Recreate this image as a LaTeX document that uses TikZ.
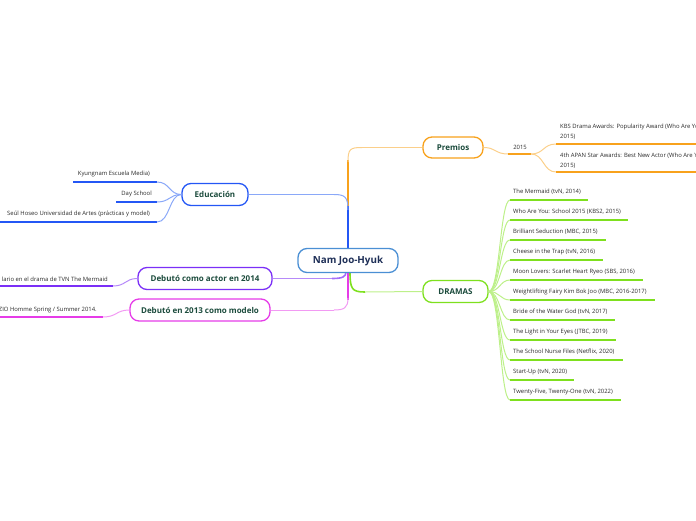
\documentclass[tikz,border=0pt]{standalone}
\usepackage{fontspec}
\setmainfont{Open Sans}
\definecolor{cblue}{HTML}{2457F5}
\definecolor{lblue}{HTML}{8AA8F8}
\definecolor{corange}{HTML}{F8A21C}
\definecolor{lorange}{HTML}{FBCF8A}
\definecolor{cpurple}{HTML}{7B2FF7}
\definecolor{lpurple}{HTML}{B68AF9}
\definecolor{cmag}{HTML}{E63CE8}
\definecolor{lmag}{HTML}{F29AF3}
\definecolor{cgreen}{HTML}{7EE01E}
\definecolor{lgreen}{HTML}{BDF08A}
\definecolor{nodetext}{HTML}{1B4B3C}
\definecolor{centert}{HTML}{1E2F57}
\definecolor{centerb}{HTML}{4A8FD4}
\definecolor{leaftext}{HTML}{2A2A2A}
\begin{document}
\begin{tikzpicture}[x=1pt,y=-1pt,
  topic/.style={draw, rounded corners=9pt, line width=1.3pt, fill=white,
    font=\bfseries\fontsize{8}{9}\selectfont, text=nodetext, inner sep=0pt, minimum height=22pt},
  leaf/.style={font=\fontsize{5.9}{10}\selectfont, inner sep=0pt, text=leaftext},
  uline/.style={line width=2pt},
  trunk/.style={line width=2.4pt},
  conn/.style={line width=1pt}]
\useasboundingbox (0,0) rectangle (696,520);
\clip (0,0) rectangle (696,520);

% trunk lines
\draw[trunk,corange] (348,206) -- (348,160);
\draw[conn,lorange] (348,162) .. controls (348,149) and (350,147.5) .. (362,147.5) coordinate (pa);
\draw[trunk,cblue] (348,249) -- (348,206);
\draw[conn,lblue] (348,210) .. controls (348,197) and (345,194.5) .. (334,194.5) coordinate (ea);
\draw[trunk,cmag] (348,272) -- (348,300);
\draw[conn,lmag] (348,298) .. controls (348,308) and (344,310) .. (334,310) coordinate (ma);
\draw[line width=1.6pt,cpurple!70] (346,272) .. controls (346,277) and (342,278.5) .. (332,278.5) coordinate (aa);
\draw[line width=1.6pt,cgreen] (350,272) .. controls (350,289) and (352,292) .. (365,292) coordinate (ga);

% main nodes
\node[topic, draw=centerb, text=centert, minimum width=100pt, minimum height=24pt,
  font=\bfseries\fontsize{9.8}{11}\selectfont] (c) at (348,260.5) {Nam Joo-Hyuk};
\node[topic, draw=corange, minimum width=60pt, minimum height=21pt] (prem) at (453,147.5) {Premios};
\node[topic, draw=cblue, minimum width=66pt] (edu) at (215,194.5) {Educación};
\node[topic, draw=cpurple, minimum width=134pt] (act) at (205,278.5) {Debutó como actor en 2014};
\node[topic, draw=cmag, minimum width=140pt] (mod) at (200,310) {Debutó en 2013 como modelo};
\node[topic, draw=cgreen, minimum width=65pt] (dr) at (455.5,291.5) {DRAMAS};

\draw[conn,lorange] (pa) -- (prem.west);
\draw[conn,lblue] (ea) -- (edu.east);
\draw[conn,lmag] (ma) -- (mod.east);
\draw[conn,lpurple] (aa) -- (act.east);
\draw[conn,lgreen] (ga) -- (dr.west);

% Premios subtree
\coordinate (y15a) at (508,154);
\coordinate (y15b) at (531,154);
\node[leaf] (y15) at (520,147) {2015};
\draw[conn,lorange] (prem.east) .. controls (496,147.5) and (495,154) .. (y15a);
\draw[uline,corange] (y15a) -- (y15b);
\coordinate (k1a) at (556,144); \coordinate (k1b) at (700,144);
\coordinate (k2a) at (556,172); \coordinate (k2b) at (700,172);
\draw[conn,lorange] (y15b) .. controls (544,154) and (543,144) .. (k1a);
\draw[conn,lorange] (y15b) .. controls (544,154) and (543,172) .. (k2a);
\draw[uline,corange] (k1a) -- (k1b);
\draw[uline,corange] (k2a) -- (k2b);
\node[leaf, anchor=north west, align=left] (k1) at (560,123.5) {KBS Drama Awards: Popularity Award (Who Are You: School\\2015)};
\node[leaf, anchor=north west, align=left] (k2) at (560,153) {4th APAN Star Awards: Best New Actor (Who Are You: School\\2015)};

% Educacion subtree
\node[leaf, anchor=east] (e1) at (150,174) {Kyungnam Escuela Media)};
\node[leaf, anchor=east] (e2) at (152,194) {Day School};
\node[leaf, anchor=east] (e3) at (150,214) {Seúl Hoseo Universidad de Artes (prácticas y model)};
\coordinate (e1a) at (73,182); \coordinate (e1b) at (157,182);
\coordinate (e2a) at (116,202); \coordinate (e2b) at (157,202);
\coordinate (e3a) at (-2,222); \coordinate (e3b) at (157,222);
\foreach \i in {1,2,3}{
  \draw[uline,cblue] (e\i a) -- (e\i b);
  \draw[conn,lblue] (e\i b) .. controls (170,{\i*20+162}) and (169,194.5) .. (edu.west);
}

% Actor subtree
\node[leaf, anchor=east] (a1) at (108,279) {lario en el drama de TVN The Mermaid};
\coordinate (a1a) at (-2,286); \coordinate (a1b) at (113,286);
\draw[uline,cpurple] (a1a) -- (a1b);
\draw[conn,lpurple] (a1b) .. controls (126,286) and (125,278.5) .. (act.west);

% Modelo subtree
\node[leaf, anchor=east] (m1) at (97,310) {ZIO Homme Spring / Summer 2014.};
\coordinate (m1a) at (-2,317); \coordinate (m1b) at (103,317);
\draw[uline,cmag] (m1a) -- (m1b);
\draw[conn,lmag] (m1b) .. controls (117,317) and (116,310) .. (mod.west);

% Dramas subtree
\node[leaf, anchor=west] (d0) at (513,192) {The Mermaid (tvN, 2014)};
\node[leaf, anchor=west] (d1) at (513,212) {Who Are You: School 2015 (KBS2, 2015)};
\node[leaf, anchor=west] (d2) at (513,232) {Brilliant Seduction (MBC, 2015)};
\node[leaf, anchor=west] (d3) at (513,252) {Cheese in the Trap (tvN, 2016)};
\node[leaf, anchor=west] (d4) at (513,272) {Moon Lovers: Scarlet Heart Ryeo (SBS, 2016)};
\node[leaf, anchor=west] (d5) at (513,292) {Weightlifting Fairy Kim Bok Joo (MBC, 2016-2017)};
\node[leaf, anchor=west] (d6) at (513,312) {Bride of the Water God (tvN, 2017)};
\node[leaf, anchor=west] (d7) at (513,332) {The Light in Your Eyes (JTBC, 2019)};
\node[leaf, anchor=west] (d8) at (513,352) {The School Nurse Files (Netflix, 2020)};
\node[leaf, anchor=west] (d9) at (513,372) {Start-Up (tvN, 2020)};
\node[leaf, anchor=west] (d10) at (513,392) {Twenty-Five, Twenty-One (tvN, 2022)};
\foreach \i/\xend in {0/588,1/628,2/606,3/603,4/643,5/655,6/615,7/616,8/623,9/574,10/621}{
  \coordinate (da\i) at (510,{200+20*\i});
  \coordinate (db\i) at (\xend,{200+20*\i});
  \draw[conn,lgreen] (dr.east) .. controls (500,291.5) and (500,{200+20*\i}) .. (da\i);
}
\foreach \i in {0,...,10}{
  \draw[uline,cgreen] (da\i) -- (db\i);
}
\end{tikzpicture}
\end{document}
